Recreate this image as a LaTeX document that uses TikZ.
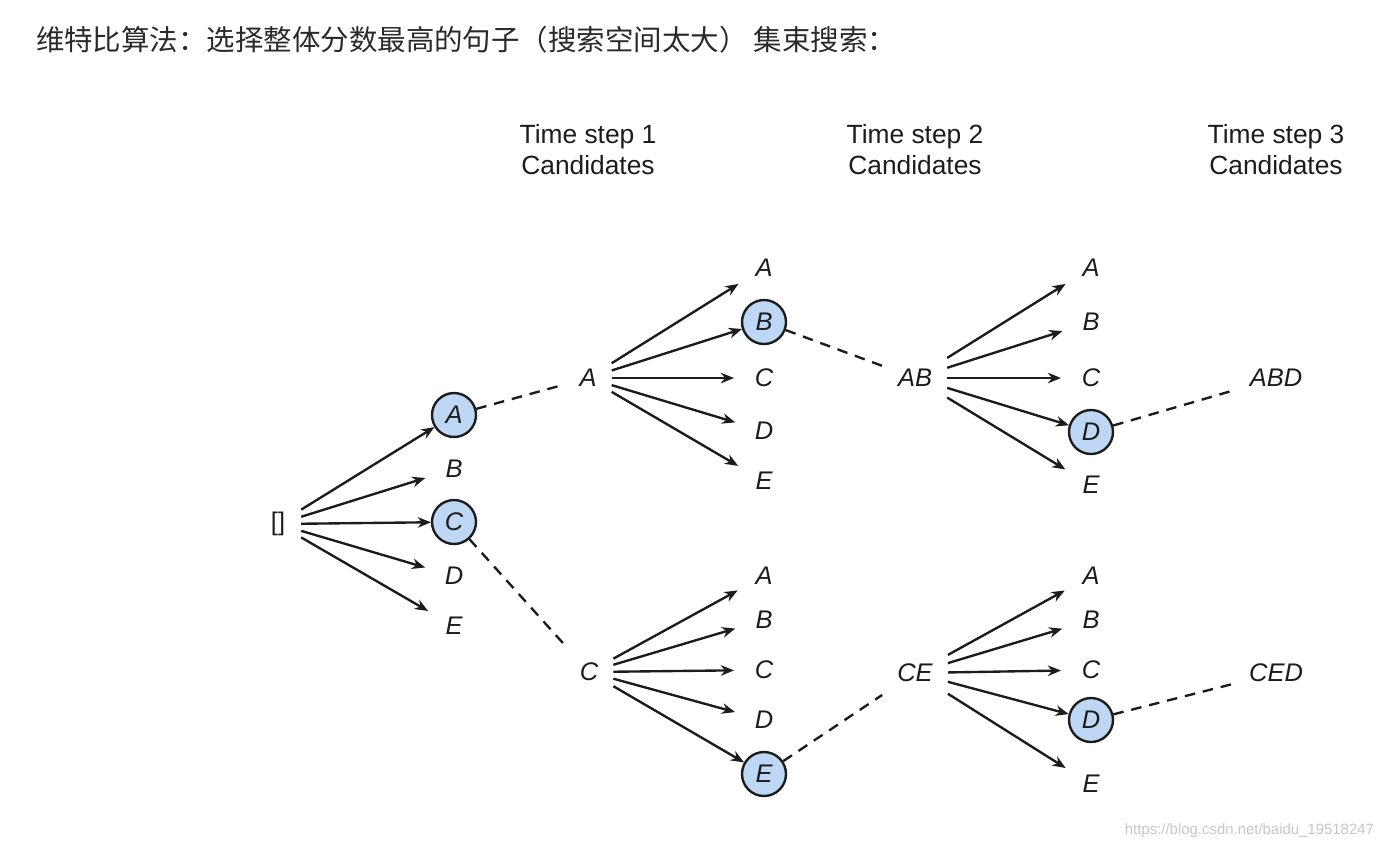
\documentclass[tikz,border=0pt]{standalone}
\usepackage{fontspec}
\setmainfont{Liberation Sans}
\newfontfamily\cjk{Noto Sans CJK SC}
\usetikzlibrary{arrows.meta}
\definecolor{ink}{HTML}{1C1C1C}
\definecolor{titleink}{HTML}{2A2A2A}
\definecolor{beamfill}{HTML}{BDD7F5}
\tikzset{
  tok/.style={circle, minimum size=0.88cm, inner sep=0pt, outer sep=0.16cm,
    font=\fontsize{14.5}{17}\selectfont\itshape},
  pick/.style={tok, outer sep=0.6pt, draw, fill=beamfill},
  cand/.style={rectangle, minimum height=0.9cm, minimum width=0.88cm, inner xsep=0.28cm,
    font=\fontsize{14.5}{17}\selectfont\itshape},
  head/.style={align=center, font=\fontsize{15}{17.6}\selectfont},
  keep/.style={dash pattern=on 6pt off 4.5pt},
}
\begin{document}
\begin{tikzpicture}[x=0.02cm, y=-0.02cm, >={Stealth[length=7.5pt,width=6pt]}, line width=1.35pt, color=ink]
    \useasboundingbox (0,0) rectangle (1390,850);
    \node[anchor=west, text=titleink, font=\cjk\fontsize{16.2}{19}\selectfont] (title) at (29,40)
        {维特比算法：选择整体分数最高的句子（搜索空间太大） 集束搜索：};
    \node[head] (head1) at (588,150) {Time step 1\\Candidates};
    \node[head] (head2) at (915,150) {Time step 2\\Candidates};
    \node[head] (head3) at (1276,150) {Time step 3\\Candidates};

    \node[cand, font=\fontsize{14.5}{17}\selectfont, minimum height=1.2cm] (root) at (278,524) {[]};
    \node[pick] (t1a) at (454,415) {A};
    \node[tok] (t1b) at (454,469) {B};
    \node[pick] (t1c) at (454,522) {C};
    \node[tok] (t1d) at (454,576) {D};
    \node[tok] (t1e) at (454,626) {E};

    \node[cand] (candA) at (588,378) {A};
    \node[cand] (candC) at (589,672) {C};

    \node[tok] (t2aa) at (764,268) {A};
    \node[pick] (t2ab) at (764,322) {B};
    \node[tok] (t2ac) at (764,378) {C};
    \node[tok] (t2ad) at (764,431) {D};
    \node[tok] (t2ae) at (764,481) {E};
    \node[tok] (t2ca) at (764,576) {A};
    \node[tok] (t2cb) at (764,620) {B};
    \node[tok] (t2cc) at (764,670) {C};
    \node[tok] (t2cd) at (764,720) {D};
    \node[pick] (t2ce) at (764,774) {E};

    \node[cand] (candAB) at (915,378) {AB};
    \node[cand] (candCE) at (915,673) {CE};

    \node[tok] (t3aba) at (1091,268) {A};
    \node[tok] (t3abb) at (1091,322) {B};
    \node[tok] (t3abc) at (1091,378) {C};
    \node[pick] (t3abd) at (1091,432) {D};
    \node[tok] (t3abe) at (1091,485) {E};
    \node[tok] (t3cea) at (1091,576) {A};
    \node[tok] (t3ceb) at (1091,620) {B};
    \node[tok] (t3cec) at (1091,670) {C};
    \node[pick] (t3ced) at (1091,720) {D};
    \node[tok] (t3cee) at (1091,784) {E};

    \node[cand] (candABD) at (1276,378) {ABD};
    \node[cand] (candCED) at (1276,673) {CED};

    \foreach \t in {t1a,t1b,t1c,t1d,t1e}
        \draw[->] (root) -- (\t);
    \foreach \t in {t2aa,t2ab,t2ac,t2ad,t2ae}
        \draw[->] (candA) -- (\t);
    \foreach \t in {t2ca,t2cb,t2cc,t2cd,t2ce}
        \draw[->] (candC) -- (\t);
    \foreach \t in {t3aba,t3abb,t3abc,t3abd,t3abe}
        \draw[->] (candAB) -- (\t);
    \foreach \t in {t3cea,t3ceb,t3cec,t3ced,t3cee}
        \draw[->] (candCE) -- (\t);

    \draw[keep] (t1a) -- (candA);
    \draw[keep] (t1c) -- (candC);
    \draw[keep] (t2ab) -- (candAB);
    \draw[keep] (t2ce) -- (candCE);
    \draw[keep] (t3abd) -- (candABD);
    \draw[keep] (t3ced) -- (candCED);

    \node[anchor=east, text=black!22, font=\fontsize{8.5}{10}\selectfont] (mark) at (1381,831)
        {https://blog.csdn.net/baidu\_19518247};
\end{tikzpicture}
\end{document}
